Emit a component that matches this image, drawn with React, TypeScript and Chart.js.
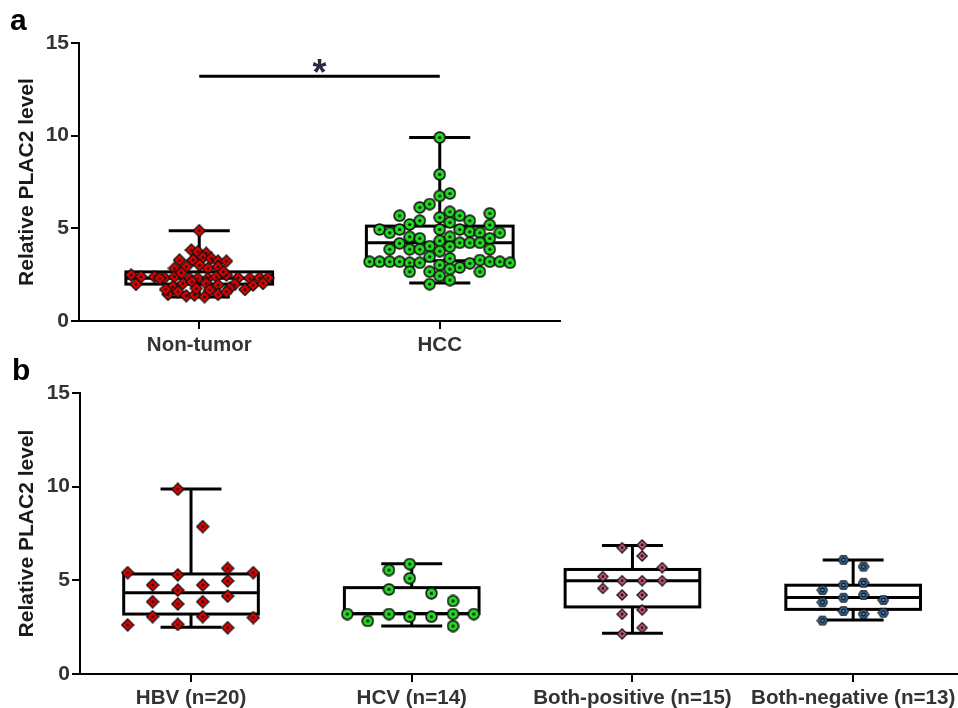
import React, { useEffect, useRef } from 'react';
import { Chart, registerables } from 'chart.js';

Chart.register(...registerables);

const FONT = "'Liberation Sans', Arial, Helvetica, sans-serif";

// ---------- Panel a ----------
const panelACategories = ['Non-tumor', 'HCC'];
// box stats: [min, q1, median, q3, max]
const panelABoxStats = [
  [1.3, 1.99, 2.3, 2.65, 4.87],
  [2.05, 3.25, 4.22, 5.12, 9.9],
];
const panelASigBar = 13.2;
const panelASigLabel = '*';

const nonTumorOffsets = [
  0.0, -0.033, -0.006, 0.029, -0.082, -0.026, 0.015, 0.05, 0.078, 0.113,
  -0.103, -0.054, 0.001, 0.036, 0.078, -0.283, -0.242, -0.186, -0.145, -0.103,
  -0.04, -0.006, 0.036, 0.071, 0.113, 0.161, 0.21, 0.251, 0.286, -0.263,
  -0.11, -0.068, -0.03, 0.029, 0.078, 0.147, 0.224, 0.265, 0.126, -0.13,
  -0.089, -0.054, -0.02, 0.022, 0.078, 0.113, -0.165, -0.012, 0.043, -0.075,
  0.1, -0.14, 0.19,
];
const nonTumorValues = [
  4.87, 3.83, 3.74, 3.65, 3.29, 3.29, 3.43, 3.38, 3.23, 3.23,
  2.84, 2.93, 3.02, 2.84, 2.93, 2.48, 2.39, 2.39, 2.33, 2.39,
  2.3, 2.3, 2.3, 2.39, 2.48, 2.33, 2.3, 2.33, 2.33, 1.98,
  1.85, 2.03, 2.12, 2.03, 1.94, 1.98, 1.94, 2.03, 1.76, 1.44,
  1.58, 1.36, 1.4, 1.31, 1.44, 1.58, 2.3, 1.76, 1.67, 2.6,
  2.65, 1.7, 1.7,
];

const hccOffsets = [
  0.0, 0.0, 0.0, 0.042, -0.083, -0.042, -0.167, -0.083, -0.125, 0.0,
  0.042, 0.083, 0.125, 0.208, 0.042, 0.208, -0.25, -0.208, -0.167, 0.0,
  0.083, 0.125, 0.167, 0.25, -0.125, -0.083, 0.0, 0.042, 0.208, -0.167,
  -0.042, 0.083, 0.125, 0.167, -0.208, -0.125, -0.083, 0.0, 0.042, 0.208,
  -0.042, 0.042, -0.292, -0.25, -0.208, -0.167, -0.125, -0.083, 0.0, 0.083,
  0.125, 0.167, 0.208, 0.25, 0.292, -0.125, -0.042, 0.042, 0.167, 0.0,
  -0.042, 0.042,
];
const hccValues = [
  9.9, 7.91, 6.75, 6.88, 6.13, 6.31, 5.68, 5.41, 5.21, 5.59,
  5.89, 5.68, 5.41, 5.81, 5.32, 5.18, 4.94, 4.76, 4.94, 4.94,
  4.94, 4.81, 4.76, 4.76, 4.54, 4.46, 4.33, 4.54, 4.46, 4.19,
  4.04, 4.22, 4.22, 4.22, 3.87, 3.87, 3.87, 3.77, 4.01, 3.87,
  3.47, 3.38, 3.2, 3.2, 3.2, 3.2, 3.14, 3.14, 3.02, 2.89,
  3.11, 3.29, 3.2, 3.2, 3.14, 2.66, 2.66, 2.8, 2.66, 2.43,
  1.99, 2.21,
];

// ---------- Panel b ----------
const panelBCategories = ['HBV (n=20)', 'HCV (n=14)', 'Both-positive (n=15)', 'Both-negative (n=13)'];
const panelBBoxStats = [
  [2.5, 3.2, 4.34, 5.34, 9.88],
  [2.56, 3.22, 3.22, 4.61, 5.88],
  [2.17, 3.58, 4.98, 5.58, 6.86],
  [2.88, 3.45, 4.08, 4.74, 6.09],
];

const hbvOffsets = [
  -0.287, -0.287, -0.174, -0.174, -0.174, -0.06, -0.06, -0.06, -0.06, -0.06,
  0.053, 0.053, 0.053, 0.053, 0.166, 0.166, 0.166, 0.166, 0.282, 0.282,
];
const hbvValues = [
  5.41, 2.62, 4.75, 3.86, 3.06, 9.86, 5.29, 4.48, 3.74, 2.65,
  7.87, 4.75, 3.86, 3.06, 5.64, 4.97, 4.16, 2.47, 5.41, 3.01,
];

const hcvOffsets = [
  -0.292, -0.199, -0.103, -0.103, -0.103, -0.009, -0.009, -0.009, 0.089, 0.089,
  0.187, 0.187, 0.187, 0.281,
];
const hcvValues = [
  3.2, 2.83, 5.55, 4.52, 3.2, 5.87, 5.11, 3.06, 4.31, 3.06,
  3.9, 3.2, 2.56, 3.2,
];

const bothPosOffsets = [
  -0.134, -0.134, -0.047, -0.047, -0.047, -0.047, -0.047, 0.044, 0.044, 0.044,
  0.044, 0.044, 0.044, 0.135, 0.135,
];
const bothPosValues = [
  5.2, 4.57, 6.74, 4.98, 4.22, 3.19, 2.14, 6.89, 6.3, 4.98,
  4.22, 3.42, 2.47, 5.68, 4.98,
];

const bothNegOffsets = [
  -0.139, -0.139, -0.139, -0.044, -0.044, -0.044, -0.044, 0.047, 0.047, 0.047,
  0.047, 0.137, 0.137,
];
const bothNegValues = [
  4.48, 3.83, 2.85, 6.09, 4.75, 4.07, 3.36, 5.73, 4.87, 4.22,
  3.2, 3.95, 3.27,
];

// ---------- helpers ----------
type Shape = 'diamond' | 'circle' | 'hex';

function makeMarker(shape: Shape, size: number, fill: string, lw: number, dotR: number, ring = false) {
  const c = document.createElement('canvas');
  c.width = size;
  c.height = size;
  const g = c.getContext('2d')!;
  const m = size / 2;
  const r = m - lw / 2 - 0.3;
  g.beginPath();
  if (shape === 'diamond') {
    g.moveTo(m, m - r);
    g.lineTo(m + r, m);
    g.lineTo(m, m + r);
    g.lineTo(m - r, m);
    g.closePath();
  } else if (shape === 'circle') {
    g.arc(m, m, r, 0, Math.PI * 2);
  } else {
    for (let k = 0; k < 6; k++) {
      const a = (k * Math.PI) / 3;
      const px = m + r * Math.cos(a);
      const py = m + r * 0.95 * Math.sin(a);
      if (k === 0) g.moveTo(px, py);
      else g.lineTo(px, py);
    }
    g.closePath();
  }
  g.fillStyle = fill;
  g.fill();
  g.lineWidth = lw;
  g.strokeStyle = '#111';
  g.stroke();
  g.beginPath();
  g.arc(m, m, dotR, 0, Math.PI * 2);
  if (ring) {
    g.lineWidth = 1.4;
    g.stroke();
  } else {
    g.fillStyle = '#111';
    g.fill();
  }
  return c;
}

function toPoints(center: number, offsets: number[], values: number[]) {
  return values.map((v, i) => ({ x: center + offsets[i], y: v }));
}

function boxPlugin(id: string, stats: number[][], boxWidth: number, capWidth: number) {
  return {
    id,
    beforeDatasetsDraw(chart: any) {
      const { ctx } = chart;
      const x = chart.scales.x;
      const y = chart.scales.y;
      ctx.save();
      ctx.strokeStyle = '#000';
      ctx.lineWidth = 3;
      ctx.lineCap = 'butt';
      const line = (x1: number, y1: number, x2: number, y2: number) => {
        ctx.beginPath();
        ctx.moveTo(x1, y1);
        ctx.lineTo(x2, y2);
        ctx.stroke();
      };
      stats.forEach((s, i) => {
        const [mn, q1, md, q3, mx] = s;
        const xl = x.getPixelForValue(i - boxWidth / 2);
        const xr = x.getPixelForValue(i + boxWidth / 2);
        const xc = x.getPixelForValue(i);
        const cl = x.getPixelForValue(i - capWidth / 2);
        const cr = x.getPixelForValue(i + capWidth / 2);
        const yMn = y.getPixelForValue(mn);
        const yQ1 = y.getPixelForValue(q1);
        const yMd = y.getPixelForValue(md);
        const yQ3 = y.getPixelForValue(q3);
        const yMx = y.getPixelForValue(mx);
        line(xc, yMx, xc, yQ3);
        line(xc, yQ1, xc, yMn);
        line(cl, yMx, cr, yMx);
        line(cl, yMn, cr, yMn);
        ctx.strokeRect(xl, yQ3, xr - xl, yQ1 - yQ3);
        line(xl, yMd, xr, yMd);
      });
      ctx.restore();
    },
  };
}

function letterPlugin(id: string, letter: string, lx: number, ly: number) {
  return {
    id,
    afterDraw(chart: any) {
      const { ctx } = chart;
      ctx.save();
      ctx.fillStyle = '#000';
      ctx.font = `bold 30px ${FONT}`;
      ctx.textBaseline = 'alphabetic';
      ctx.textAlign = 'left';
      ctx.fillText(letter, lx, ly);
      ctx.restore();
    },
  };
}

const sigPlugin = {
  id: 'sig',
  afterDatasetsDraw(chart: any) {
    const { ctx } = chart;
    const x = chart.scales.x;
    const y = chart.scales.y;
    const x0 = x.getPixelForValue(0);
    const x1 = x.getPixelForValue(1);
    const yb = y.getPixelForValue(panelASigBar);
    ctx.save();
    ctx.strokeStyle = '#000';
    ctx.lineWidth = 3;
    ctx.beginPath();
    ctx.moveTo(x0, yb);
    ctx.lineTo(x1, yb);
    ctx.stroke();
    ctx.fillStyle = '#2a2a48';
    ctx.font = `bold 36px ${FONT}`;
    ctx.textAlign = 'center';
    ctx.textBaseline = 'alphabetic';
    ctx.fillText(panelASigLabel, (x0 + x1) / 2, yb + 9);
    ctx.restore();
  },
};

function xAxis(min: number, max: number, cats: string[], fontSize: number, height: number) {
  return {
    type: 'linear' as const,
    min,
    max,
    afterBuildTicks: (s: any) => {
      s.ticks = cats.map((_, i) => ({ value: i }));
    },
    afterFit: (s: any) => {
      s.height = height;
    },
    ticks: {
      callback: (_v: any, i: number) => cats[i] ?? '',
      font: { family: FONT, size: fontSize, weight: 'bold' as const },
      color: '#333',
      padding: 4,
      maxRotation: 0,
      autoSkip: false,
    },
    grid: { drawOnChartArea: false, color: '#000', lineWidth: 2, tickLength: 8 },
    border: { display: true, color: '#000', width: 2 },
  };
}

function yAxis(width: number) {
  return {
    type: 'linear' as const,
    min: 0,
    max: 15,
    afterFit: (s: any) => {
      s.width = width;
    },
    ticks: {
      stepSize: 5,
      font: { family: FONT, size: 21, weight: 'bold' as const },
      color: '#333',
      padding: 2,
    },
    grid: { drawOnChartArea: false, color: '#000', lineWidth: 2, tickLength: 8 },
    border: { display: true, color: '#000', width: 2 },
    title: {
      display: true,
      text: 'Relative PLAC2 level',
      font: { family: FONT, size: 21, weight: 'bold' as const },
      color: '#1a1a1a',
      padding: { top: 15, bottom: 0 },
    },
  };
}

export default function App() {
  const refA = useRef<HTMLCanvasElement>(null);
  const refB = useRef<HTMLCanvasElement>(null);

  useEffect(() => {
    document.body.style.margin = '0';
    const redDiamond = makeMarker('diamond', 14, '#e60000', 1.3, 1.5);
    const greenCircle = makeMarker('circle', 13, '#22dd22', 1.6, 1.6);
    const redDiamondB = makeMarker('diamond', 14, '#e60000', 1.3, 1.5);
    const greenCircleB = makeMarker('circle', 13, '#22dd22', 1.6, 1.6);
    const pinkDiamond = makeMarker('diamond', 12, '#d65a7c', 1.3, 1.4);
    const blueHex = makeMarker('hex', 12, '#4d94dc', 1.3, 2.0, true);

    const common = {
      responsive: false,
      animation: false as const,
      events: [] as any[],
      plugins: { legend: { display: false }, tooltip: { enabled: false } },
    };

    const chartA = new Chart(refA.current!, {
      type: 'scatter',
      data: {
        datasets: [
          { data: toPoints(0, nonTumorOffsets, nonTumorValues), pointStyle: redDiamond as any, pointRadius: 7 },
          { data: toPoints(1, hccOffsets, hccValues), pointStyle: greenCircle as any, pointRadius: 7 },
        ],
      },
      options: {
        ...common,
        layout: { padding: { top: 43, right: 20, bottom: 0, left: 0 } },
        scales: {
          x: xAxis(-0.5, 1.5, panelACategories, 20.5, 31) as any,
          y: yAxis(79) as any,
        },
      },
      plugins: [boxPlugin('boxA', panelABoxStats, 0.61, 0.254), sigPlugin, letterPlugin('letA', 'a', 10, 30)],
    });

    const chartB = new Chart(refB.current!, {
      type: 'scatter',
      data: {
        datasets: [
          { data: toPoints(0, hbvOffsets, hbvValues), pointStyle: redDiamondB as any, pointRadius: 7 },
          { data: toPoints(1, hcvOffsets, hcvValues), pointStyle: greenCircleB as any, pointRadius: 7 },
          { data: toPoints(2, bothPosOffsets, bothPosValues), pointStyle: pinkDiamond as any, pointRadius: 6 },
          { data: toPoints(3, bothNegOffsets, bothNegValues), pointStyle: blueHex as any, pointRadius: 6 },
        ],
      },
      options: {
        ...common,
        layout: { padding: { top: 41, right: 42, bottom: 0, left: 0 } },
        scales: {
          x: xAxis(-0.503, 3.475, panelBCategories, 20.6, 34) as any,
          y: yAxis(80) as any,
        },
      },
      plugins: [boxPlugin('boxB', panelBBoxStats, 0.61, 0.276), letterPlugin('letB', 'b', 12, 28)],
    });

    return () => {
      chartA.destroy();
      chartB.destroy();
    };
  }, []);

  return (
    <div style={{ position: 'absolute', left: 0, top: 0, width: 958, height: 708, background: '#fff', overflow: 'hidden' }}>
      <canvas ref={refA} width={580} height={352} style={{ position: 'absolute', left: 0, top: 0, width: 580, height: 352 }} />
      <canvas ref={refB} width={1000} height={356} style={{ position: 'absolute', left: 0, top: 352, width: 1000, height: 356 }} />
    </div>
  );
}
